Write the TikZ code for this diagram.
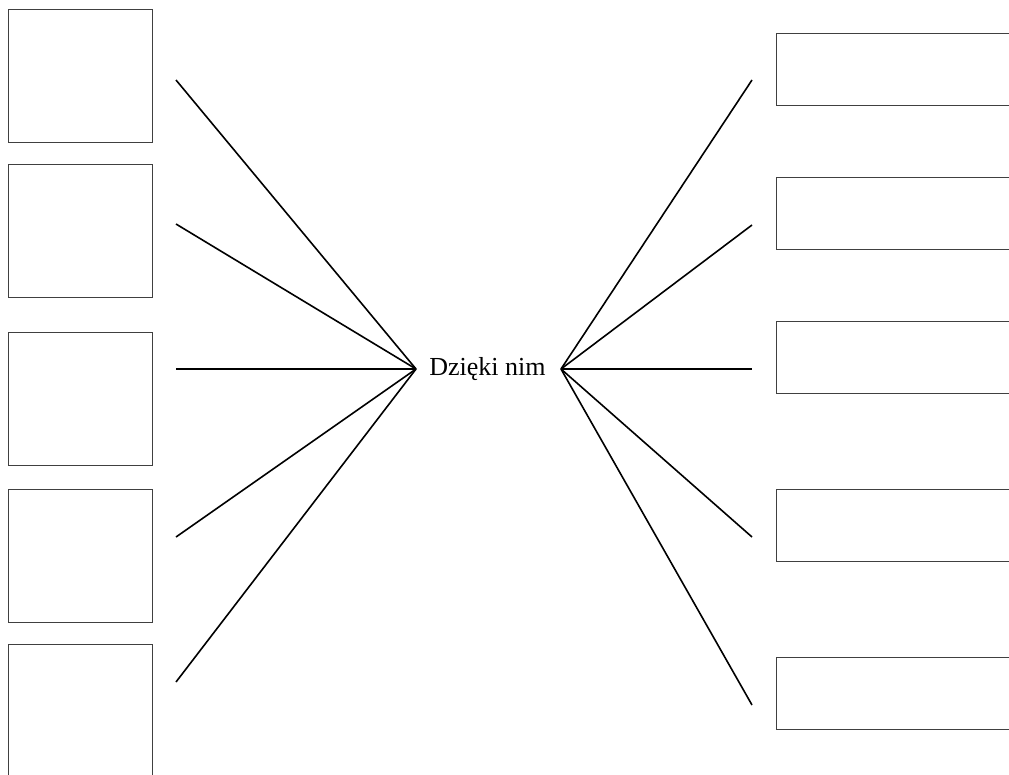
\documentclass[tikz,border=0pt]{standalone}
\usepackage{fontspec}
\setmainfont{Liberation Serif}
\begin{document}
\begin{tikzpicture}[x=1pt,y=-1pt,
  boxL/.style={draw=black!75,line width=1.1pt,minimum width=144pt,minimum height=133pt,inner sep=0pt,anchor=north west},
  boxR/.style={draw=black!75,line width=1.1pt,minimum width=260pt,minimum height=72pt,inner sep=0pt,anchor=north west},
  conn/.style={draw=black,line width=1.6pt}]
\useasboundingbox (0,0) rectangle (1009,774);
\clip (0,0) rectangle (1009,774);
% left boxes
\node[boxL] (l1) at (8,9) {};
\node[boxL] (l2) at (8,164) {};
\node[boxL] (l3) at (8,332) {};
\node[boxL] (l4) at (8,489) {};
\node[boxL] (l5) at (8,644) {};
% right boxes
\node[boxR] (r1) at (776,33) {};
\node[boxR] (r2) at (776,176.5) {};
\node[boxR] (r3) at (776,321) {};
\node[boxR] (r4) at (776,489) {};
\node[boxR] (r5) at (776,657) {};
% center text
\node[inner sep=0pt,font=\fontsize{26}{30}\selectfont] (t) at (487.5,369) {Dzięki nim};
\coordinate (aL) at (416,369);
\coordinate (aR) at (561,369);
% line ends
\coordinate (el1) at (176,80);
\coordinate (el2) at (176,224);
\coordinate (el3) at (176,369);
\coordinate (el4) at (176,537);
\coordinate (el5) at (176,682);
\coordinate (er1) at (752,80);
\coordinate (er2) at (752,225);
\coordinate (er3) at (752,369);
\coordinate (er4) at (752,537);
\coordinate (er5) at (752,705);
\foreach \i in {1,...,5}{
  \draw[conn] (aL) -- (el\i);
  \draw[conn] (aR) -- (er\i);
}
\end{tikzpicture}
\end{document}
